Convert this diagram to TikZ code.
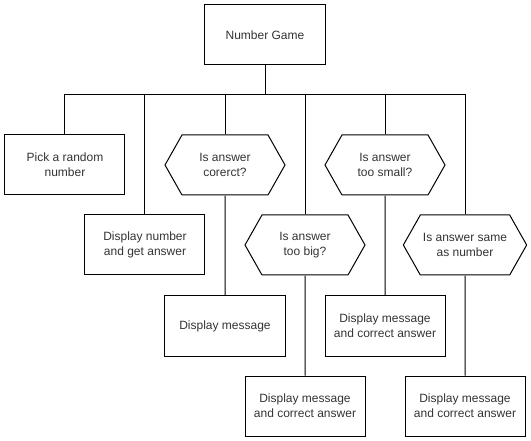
\documentclass[tikz,border=0pt]{standalone}
\usepackage{fontspec}
\setmainfont{Liberation Sans}
\usepackage{tikz}
\usetikzlibrary{positioning, shapes.symbols}
\definecolor{ink}{RGB}{51,51,51}
\tikzset{
  box/.style={
    rectangle, draw=black, line width=0.75pt, minimum width=90pt,
    minimum height=45pt, inner sep=2pt, align=center,
    font=\fontsize{9}{11}\selectfont, text=ink
  },
  check/.style={
    box, signal, signal to=east and west, signal pointer angle=121
  },
  link/.style={draw=black, line width=0.75pt},
}
\begin{document}
\begin{tikzpicture}[x=0.75pt, y=0.75pt, node distance=75pt]
  \useasboundingbox (-265,35) rectangle (266,-406);
  \node[box] (game) {Number Game};

  % first and second rows
  \node[box] (pick) at (-200,-130) {Pick a random\\number};
  \node[box] (number) at (-120,-210) {Display number\\and get answer};
  \node[check] (correct) at (-40,-130) {Is answer\\corerct?};
  \node[check] (big) at (40,-210) {Is answer\\too big?};
  \node[check] (small) at (120,-130) {Is answer\\too small?};
  \node[check] (same) at (200,-210) {Is answer same\\as number};

  % messages
  \node[box, below=of correct] (msgcorrect) {Display message};
  \node[box, below=of big] (msgbig) {Display message\\and correct answer};
  \node[box, below=of small] (msgsmall) {Display message\\and correct answer};
  \node[box, below=of same] (msgsame) {Display message\\and correct answer};

  \coordinate (bus) at (0,-60);
  \draw[link] (game) -- (bus);
  \foreach \n in {pick, number, correct, big, small, same}
    \draw[link] (\n.north) |- (bus);

  \draw[link] (correct) -- (msgcorrect);
  \draw[link] (big) -- (msgbig);
  \draw[link] (small) -- (msgsmall);
  \draw[link] (same) -- (msgsame);
\end{tikzpicture}
\end{document}
